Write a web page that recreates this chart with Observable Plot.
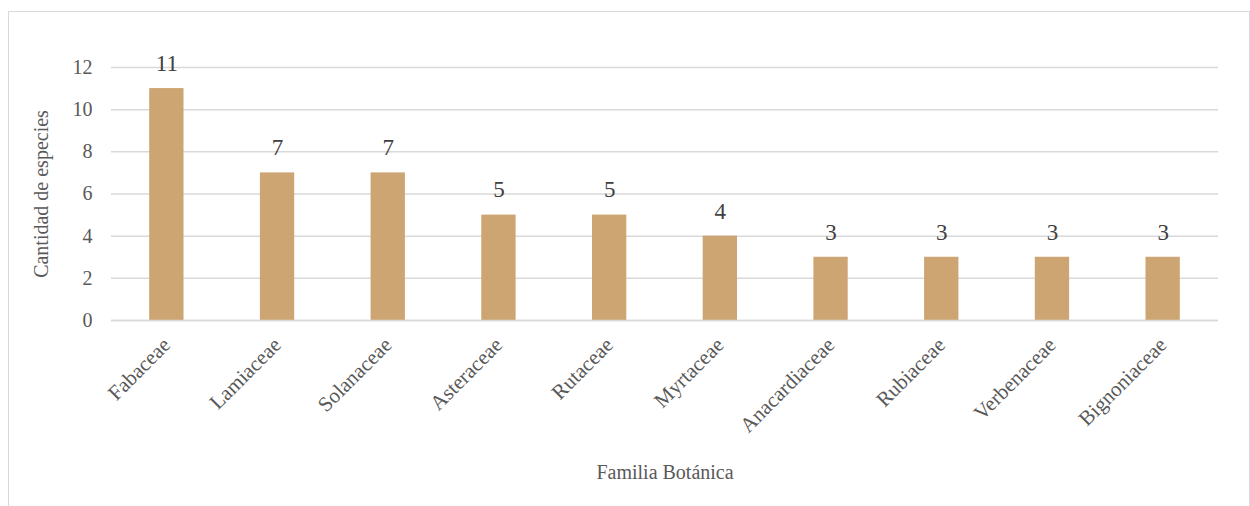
<!DOCTYPE html>
<html><head><meta charset="utf-8">
<script src="https://cdn.jsdelivr.net/npm/d3@7"></script>
<script src="https://cdn.jsdelivr.net/npm/@observablehq/plot@0.6"></script>
<style>
html,body{margin:0;padding:0;background:#fff;}
#wrap{position:relative;width:1250px;height:506px;overflow:hidden;}
#border{position:absolute;left:8px;top:11px;width:1242px;height:520px;border:1.5px solid #d9d9d9;box-sizing:border-box;}
#chart{position:absolute;left:0;top:0;}
</style></head>
<body><div id="wrap"><div id="border"></div><div id="chart"></div></div>
<script>
const familias = ["Fabaceae","Lamiaceae","Solanaceae","Asteraceae","Rutaceae","Myrtaceae","Anacardiaceae","Rubiaceae","Verbenaceae","Bignoniaceae"];
const especies = [11,7,7,5,5,4,3,3,3,3];
const yTicks = [0,2,4,6,8,10,12];
const data = familias.map((f,i)=>({familia:f, n:especies[i]}));
const font = "'Liberation Serif', 'Times New Roman', serif";
const plot = Plot.plot({
  width: 1250, height: 506,
  marginLeft: 111, marginRight: 32, marginTop: 67, marginBottom: 186,
  style: {fontFamily: font, fontSize: "20px", color: "#595959", background: "transparent", overflow: "visible"},
  x: {domain: familias, paddingInner: 0.69, paddingOuter: 0.345, round: false, label: null},
  y: {domain: [0,12], label: null},
  marks: [
    Plot.gridY(yTicks, {stroke: "#d9d9d9", strokeOpacity: 1, strokeWidth: 1.5}),
    Plot.barY(data, {x: "familia", y: "n", fill: "#cca572"}),
    Plot.ruleY([0], {stroke: "#d9d9d9", strokeWidth: 1.5}),
    Plot.axisY(yTicks, {tickSize: 0, tickPadding: 19, fontSize: 20, fill: "#595959", label: null}),
    Plot.axisX({tickSize: 0, tickPadding: 21, tickRotate: -45, fontSize: 21, fill: "#595959", label: null}),
    Plot.text(data, {x: "familia", y: "n", text: d => String(d.n), dy: -25, fontSize: 23, fill: "#404040"}),
    Plot.text(["Cantidad de especies"], {frameAnchor: "left", textAnchor: "middle", dx: -70, rotate: -90, fontSize: 20, fill: "#595959"}),
    Plot.text(["Familia Botánica"], {frameAnchor: "bottom", dy: 158, fontSize: 20, fill: "#595959"})
  ]
});
document.getElementById("chart").appendChild(plot);
</script></body></html>
